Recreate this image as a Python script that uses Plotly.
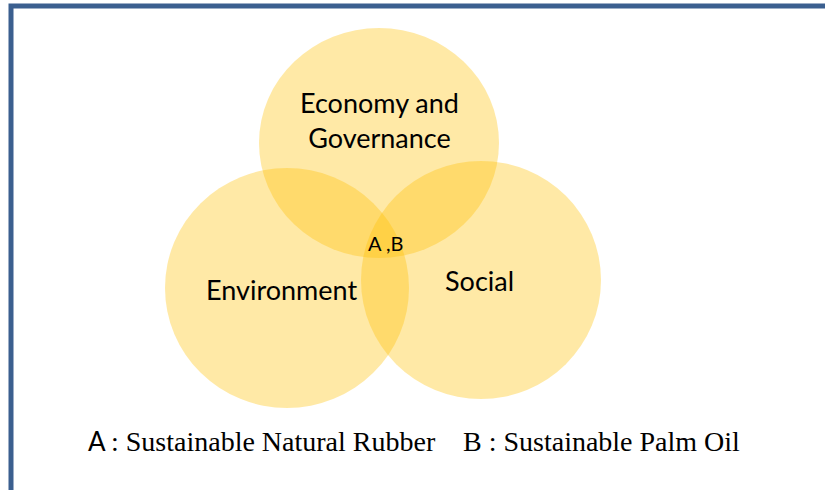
import plotly.graph_objects as go

# Venn sets (pixel-space centres and radii)
set_names = ["Economy and<br>Governance", "Environment", "Social"]
centre_x = [379, 287, 481]
centre_y = [143, 288, 280]
radius_x = [120, 122, 120]
radius_y = [115, 120, 119]

label_x = [379, 281, 479]
label_y = [120, 289, 280]

shared_label = "A ,B"
shared_pos = (385, 243)

legend_items = ["A : Sustainable Natural Rubber", "B : Sustainable Palm Oil"]

fill = "rgba(255,192,0,0.35)"
border = "#3B5F8F"

W, H = 825, 490

fig = go.Figure()
shapes = []
shapes.append(dict(type="rect", xref="x", yref="y", x0=11, y0=6, x1=840, y1=510,
                   line=dict(color=border, width=5), fillcolor="rgba(0,0,0,0)", layer="above"))
for cx, cy, rx, ry in zip(centre_x, centre_y, radius_x, radius_y):
    shapes.append(dict(type="circle", xref="x", yref="y",
                       x0=cx - rx, x1=cx + rx, y0=cy - ry, y1=cy + ry,
                       fillcolor=fill, line=dict(width=0), layer="below"))

ann = []
sans = "Lato, 'Open Sans', sans-serif"
for name, lx, ly in zip(set_names, label_x, label_y):
    ann.append(dict(x=lx, y=ly, xref="x", yref="y", text=name, showarrow=False,
                    font=dict(family=sans, size=27, color="#000000"), align="center"))
ann.append(dict(x=shared_pos[0], y=shared_pos[1], xref="x", yref="y", text=shared_label,
                showarrow=False, font=dict(family=sans, size=20, color="#000000")))

serif = "'Liberation Serif', 'Times New Roman', serif"
ann.append(dict(x=86, y=441, xref="x", yref="y", xanchor="left", text="A", showarrow=False,
                font=dict(family=sans, size=26, color="#000000")))
ann.append(dict(x=102, y=441, xref="x", yref="y", xanchor="left",
                text=legend_items[0][1:], showarrow=False,
                font=dict(family=serif, size=28, color="#000000")))
ann.append(dict(x=461, y=441, xref="x", yref="y", xanchor="left", text=legend_items[1],
                showarrow=False, font=dict(family=serif, size=28, color="#000000")))

fig.update_layout(
    width=W, height=H, margin=dict(l=0, r=0, t=0, b=0),
    paper_bgcolor="white", plot_bgcolor="white",
    xaxis=dict(range=[0, W], visible=False, fixedrange=True),
    yaxis=dict(range=[H, 0], visible=False, fixedrange=True),
    shapes=shapes, annotations=ann, showlegend=False,
)
fig.write_html("out.html", config={"displayModeBar": False},
               post_script="document.body.style.margin='0px';document.body.style.overflow='hidden';")
